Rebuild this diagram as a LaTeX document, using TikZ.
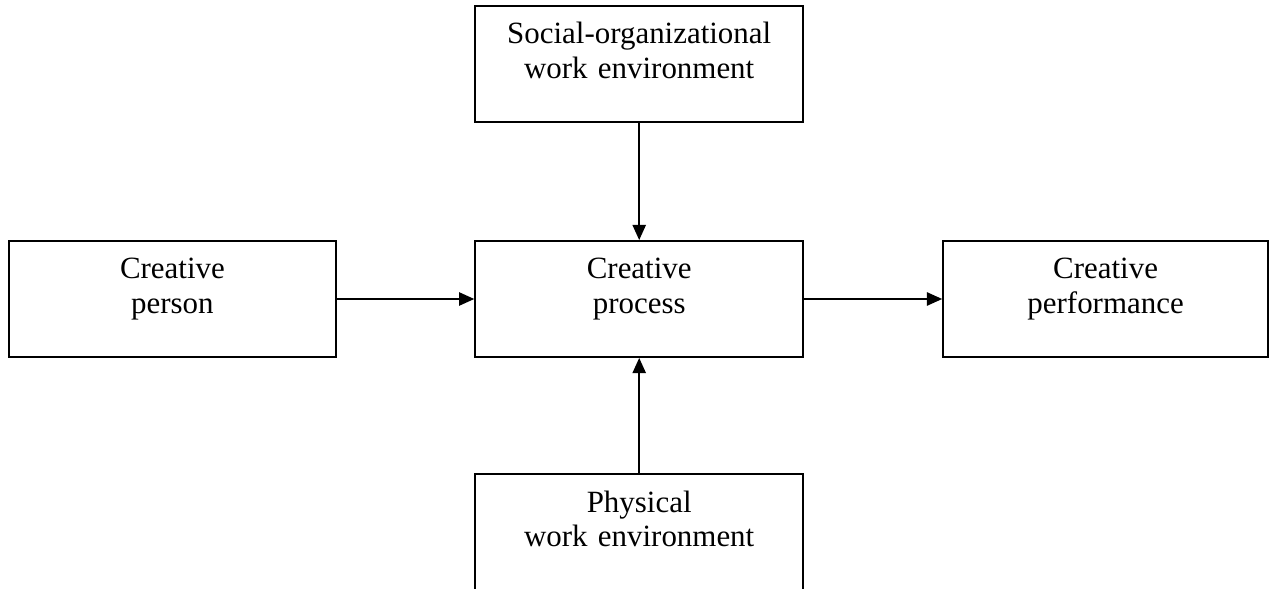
\documentclass[tikz,border=0pt]{standalone}
\usepackage{fontspec}
\setmainfont{Liberation Serif}
\usetikzlibrary{arrows.meta, positioning}

\tikzset{
    block/.style={draw, black, line width=1.3pt, text width=8.2cm, align=center, inner sep=0pt,
        text height=0.95cm, text depth=1.95cm, font=\fontsize{22}{24.2}\selectfont},
    link/.style={black, line width=1.3pt, -{Triangle[length=0.38cm, width=0.33cm]}}
}

\begin{document}
\begin{tikzpicture}
            \clip (0,0) rectangle (31.8,-14.725);% page frame

            \node[block] (process) at (15.98,-7.475) {Creative\\process};
            \node[block, text width=8.175cm] (person) at (4.31,-7.475) {Creative\\person};
            \node[block, text width=8.125cm] (performance) at (27.64,-7.475) {Creative\\performance};
            \node[block] (social) at (15.98,-1.6) {Social-organizational\\work environment};
            \node[block] (physical) at (15.98,-13.3) {Physical\\work environment};% cut off at the bottom

            \draw[link] (person) -- (process);
            \draw[link] (process) -- (performance);
            \draw[link] (social) -- (process);
            \draw[link] (physical) -- (process);
        \end{tikzpicture}
\end{document}
